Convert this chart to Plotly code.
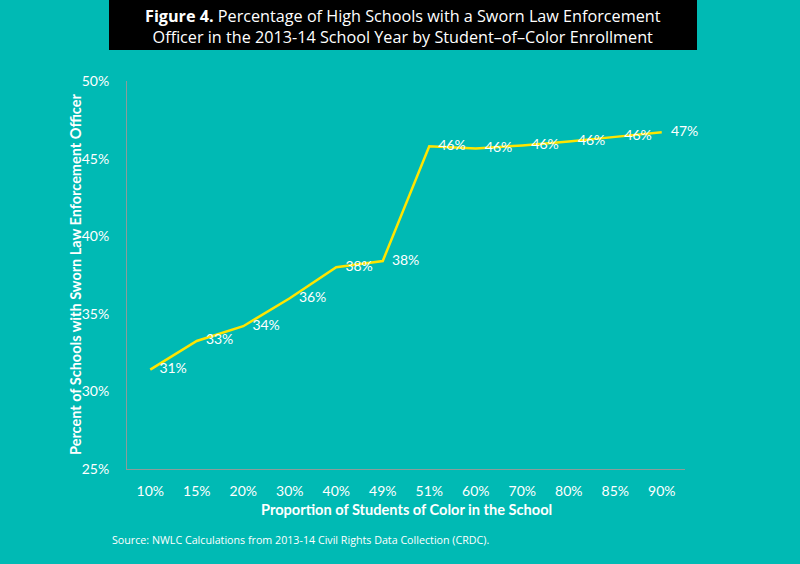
import plotly.graph_objects as go

categories = ["10%", "15%", "20%", "30%", "40%", "49%", "51%", "60%", "70%", "80%", "85%", "90%"]
values = [31.4, 33.25, 34.2, 36.0, 38.0, 38.4, 45.8, 45.65, 45.85, 46.1, 46.4, 46.7]
labels = ["31%", "33%", "34%", "36%", "38%", "38%", "46%", "46%", "46%", "46%", "46%", "47%"]
y_ticks = [25, 30, 35, 40, 45, 50]
y_tick_labels = ["25%", "30%", "35%", "40%", "45%", "50%"]

BG = "#00BAB4"
LINE = "#FFE500"
AXIS = "#8C9C9A"
FONT = "Lato, 'Open Sans', sans-serif"
TITLE_FONT = "'Open Sans', 'Noto Sans', sans-serif"

fig = go.Figure()
fig.add_trace(go.Scatter(
    x=categories, y=values, mode="lines+markers+text",
    line=dict(color=LINE, width=2.5),
    marker=dict(size=13, color="rgba(0,0,0,0)"),
    text=labels, textposition="middle right",
    textfont=dict(color="white", size=14, family=FONT),
    cliponaxis=False, hoverinfo="skip",
))

W, H = 800, 564
L, R, T, B = 127, 115, 81, 95
pw, ph = W - L - R, H - T - B

def px_x(x):
    return (x - L) / pw

def px_y(y):
    return (H - B - y) / ph

fig.update_layout(
    width=W, height=H,
    margin=dict(l=L, r=R, t=T, b=B, pad=0),
    paper_bgcolor=BG, plot_bgcolor=BG,
    showlegend=False,
    xaxis=dict(
        type="category", range=[-0.5, 11.5],
        showgrid=False, zeroline=False,
        showline=True, linecolor=AXIS, linewidth=1,
        ticks="", ticklabelstandoff=9,
        tickfont=dict(color="white", size=14, family=FONT),
    ),
    yaxis=dict(
        range=[25, 50], tickvals=y_ticks, ticktext=y_tick_labels,
        showgrid=False, zeroline=False,
        showline=True, linecolor=AXIS, linewidth=1,
        ticks="", ticklabelstandoff=14,
        tickfont=dict(color="white", size=14, family=FONT),
    ),
    shapes=[dict(
        type="rect", xref="paper", yref="paper",
        x0=px_x(109), x1=px_x(697), y0=px_y(50), y1=px_y(-5),
        fillcolor="black", line=dict(width=0), layer="above",
    )],
    annotations=[
        dict(xref="paper", yref="paper", x=px_x(403), y=px_y(26),
             text="<b>Figure 4.</b> Percentage of High Schools with a Sworn Law Enforcement<br>Officer in the 2013-14 School Year by Student\u2013of\u2013Color Enrollment",
             showarrow=False, align="center", xanchor="center", yanchor="middle",
             font=dict(color="white", size=16.2, family=TITLE_FONT)),
        dict(xref="paper", yref="paper", x=px_x(406), y=px_y(509),
             text="<b>Proportion of Students of Color in the School</b>",
             showarrow=False, xanchor="center", yanchor="middle",
             font=dict(color="white", size=14.6, family=FONT)),
        dict(xref="paper", yref="paper", x=px_x(75), y=px_y(275),
             text="<b>Percent of Schools with Sworn Law Enforcement Officer</b>",
             textangle=-90, showarrow=False, xanchor="center", yanchor="middle",
             font=dict(color="white", size=14.5, family=FONT)),
        dict(xref="paper", yref="paper", x=px_x(110), y=px_y(540),
             text="Source: NWLC Calculations from 2013-14 Civil Rights Data Collection (CRDC).",
             showarrow=False, xanchor="left", yanchor="middle",
             font=dict(color="white", size=10.7, family=TITLE_FONT)),
    ],
)

fig.write_html("out.html", config={"displayModeBar": False},
               post_script="document.body.style.margin='0';document.body.style.background='%s';" % BG)
